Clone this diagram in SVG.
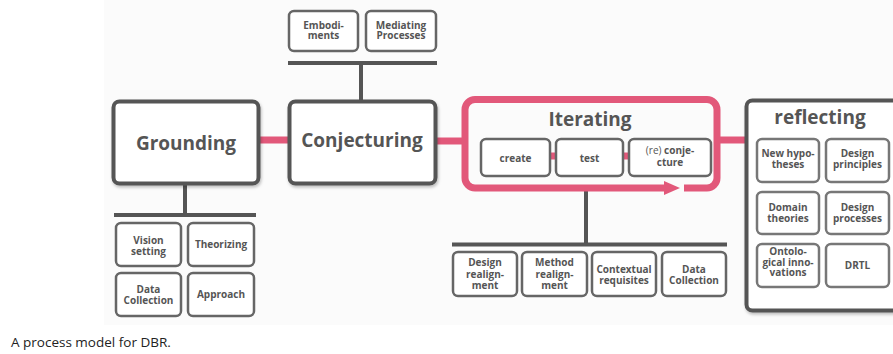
<svg xmlns="http://www.w3.org/2000/svg" width="893" height="354" viewBox="0 0 893 354">
<style>
.big{fill:#fff;stroke:#555;stroke-width:4}
.sub{fill:#fff;stroke:#666;stroke-width:2.5}
.rsub{fill:#fff;stroke:#777;stroke-width:2.5}
.bar{stroke:#555;stroke-width:4;fill:none}
.pk{stroke:#e2587a;stroke-width:7;fill:none}
.t{font-family:"Open Sans","Noto Sans",sans-serif;font-weight:bold;font-size:19px;fill:#555;text-anchor:middle}
.l{font-family:"Open Sans","Noto Sans",sans-serif;font-weight:bold;font-size:10px;fill:#555;text-anchor:middle}
.cap{font-family:"Open Sans","Noto Sans",sans-serif;font-size:13.5px;fill:#222}
</style>
<defs>
<filter id="sh" x="-10%" y="-10%" width="130%" height="130%">
<feDropShadow dx="1" dy="2" stdDeviation="1.5" flood-color="#000" flood-opacity="0.25"/>
</filter>
</defs>
<rect x="104" y="0" width="789" height="325" fill="#fbfbfb"/>
<g id="connectors">
<line class="pk" x1="257" y1="140" x2="291" y2="140"/>
<line class="pk" x1="434" y1="141" x2="466" y2="141"/>
<line class="pk" x1="716" y1="140" x2="748" y2="140"/>
<line class="pk" x1="550" y1="156" x2="557" y2="156" stroke-width="6"/>
<line class="pk" x1="623" y1="156" x2="630" y2="156" stroke-width="6"/>
<line class="bar" x1="288" y1="63" x2="437" y2="63"/>
<line class="bar" x1="361" y1="63" x2="361" y2="100"/>
<line class="bar" x1="185" y1="184" x2="185" y2="215"/>
<line class="bar" x1="114" y1="215" x2="256" y2="215"/>
<line class="bar" x1="586" y1="191" x2="586" y2="244.5"/>
<line class="bar" x1="452" y1="244.5" x2="727" y2="244.5"/>
</g>
<g id="grounding">
<rect class="big" x="113.5" y="101.5" width="145" height="82" rx="6" filter="url(#sh)"/>
<text class="t" x="186" y="150">Grounding</text>
</g>
<g id="conjecturing">
<rect class="big" x="289.5" y="101.5" width="146" height="82" rx="6" filter="url(#sh)"/>
<text class="t" x="362" y="147">Conjecturing</text>
</g>
<g id="embodiments">
<rect class="sub" x="289" y="11" width="69" height="40" rx="5"/>
<text class="l" x="323.5" y="28.5">Embodi-</text>
<text class="l" x="323.5" y="39">ments</text>
</g>
<g id="mediating">
<rect class="sub" x="366" y="11" width="70" height="40" rx="5"/>
<text class="l" x="401" y="28.5">Mediating</text>
<text class="l" x="401" y="39">Processes</text>
</g>
<g id="vision">
<rect class="sub" x="116" y="223" width="65" height="43" rx="5"/>
<text class="l" x="148.5" y="243.5">Vision</text>
<text class="l" x="148.5" y="254.5">setting</text>
</g>
<g id="theorizing">
<rect class="sub" x="188" y="223" width="66" height="43" rx="5"/>
<text class="l" x="221" y="248">Theorizing</text>
</g>
<g id="datacollection1">
<rect class="sub" x="116" y="273" width="65" height="43" rx="5"/>
<text class="l" x="148.5" y="293">Data</text>
<text class="l" x="148.5" y="304">Collection</text>
</g>
<g id="approach">
<rect class="sub" x="188" y="273" width="66" height="43" rx="5"/>
<text class="l" x="221" y="298">Approach</text>
</g>
<g id="iterating">
<path class="pk" stroke-width="6" d="M684 188 H707 A10 10 0 0 0 717 178 V109.5 A10 10 0 0 0 707 99.5 H475 A10 10 0 0 0 465 109.5 V178 A10 10 0 0 0 475 188 H666"/>
<polygon points="664,181 680,188 664,195" fill="#e2587a"/>
<text class="t" x="590" y="126">Iterating</text>
</g>
<g id="create">
<rect class="sub" x="481" y="139" width="69" height="37" rx="5"/>
<text class="l" x="515.5" y="162">create</text>
</g>
<g id="test">
<rect class="sub" x="556" y="139" width="67" height="37" rx="5"/>
<text class="l" x="589.5" y="162">test</text>
</g>
<g id="reconjecture">
<rect class="sub" x="629" y="139" width="82" height="37" rx="5"/>
<text class="l" x="670" y="154"><tspan font-weight="normal">(re)</tspan> conje-</text>
<text class="l" x="670" y="166">cture</text>
</g>
<g id="designrealignment">
<rect class="sub" x="453" y="252" width="64" height="44" rx="5"/>
<text class="l" x="485" y="266">Design</text>
<text class="l" x="485" y="277.5">realign-</text>
<text class="l" x="485" y="289">ment</text>
</g>
<g id="methodrealignment">
<rect class="sub" x="522" y="252" width="65" height="44" rx="5"/>
<text class="l" x="554.5" y="266">Method</text>
<text class="l" x="554.5" y="277.5">realign-</text>
<text class="l" x="554.5" y="289">ment</text>
</g>
<g id="contextual">
<rect class="sub" x="592" y="252" width="64" height="44" rx="5"/>
<text class="l" x="624" y="272.5">Contextual</text>
<text class="l" x="624" y="283.5">requisites</text>
</g>
<g id="datacollection2">
<rect class="sub" x="662" y="252" width="64" height="44" rx="5"/>
<text class="l" x="694" y="273">Data</text>
<text class="l" x="694" y="284">Collection</text>
</g>
<g id="reflecting">
<rect class="big" x="746.5" y="100.5" width="200" height="210" rx="6" stroke-width="5" filter="url(#sh)"/>
<text class="t" x="820" y="124">reflecting</text>
</g>
<g id="newhypotheses">
<rect class="rsub" x="757" y="139" width="62" height="43" rx="5"/>
<text class="l" x="788" y="156.5">New hypo-</text>
<text class="l" x="788" y="167.5">theses</text>
</g>
<g id="designprinciples">
<rect class="rsub" x="826" y="139" width="63" height="43" rx="5"/>
<text class="l" x="857.5" y="156.5">Design</text>
<text class="l" x="857.5" y="167.5">principles</text>
</g>
<g id="domaintheories">
<rect class="rsub" x="757" y="192" width="62" height="42" rx="5"/>
<text class="l" x="788" y="210.5">Domain</text>
<text class="l" x="788" y="221.5">theories</text>
</g>
<g id="designprocesses">
<rect class="rsub" x="826" y="192" width="63" height="42" rx="5"/>
<text class="l" x="857.5" y="210.5">Design</text>
<text class="l" x="857.5" y="221.5">processes</text>
</g>
<g id="ontological">
<rect class="rsub" x="757" y="244" width="62" height="43" rx="5"/>
<text class="l" x="788" y="255">Ontolo-</text>
<text class="l" x="788" y="265.5">gical inno-</text>
<text class="l" x="788" y="276">vations</text>
</g>
<g id="drtl">
<rect class="rsub" x="826" y="244" width="63" height="43" rx="5"/>
<text class="l" x="857.5" y="269">DRTL</text>
</g>
<text class="cap" x="11" y="347">A process model for DBR.</text>
</svg>
